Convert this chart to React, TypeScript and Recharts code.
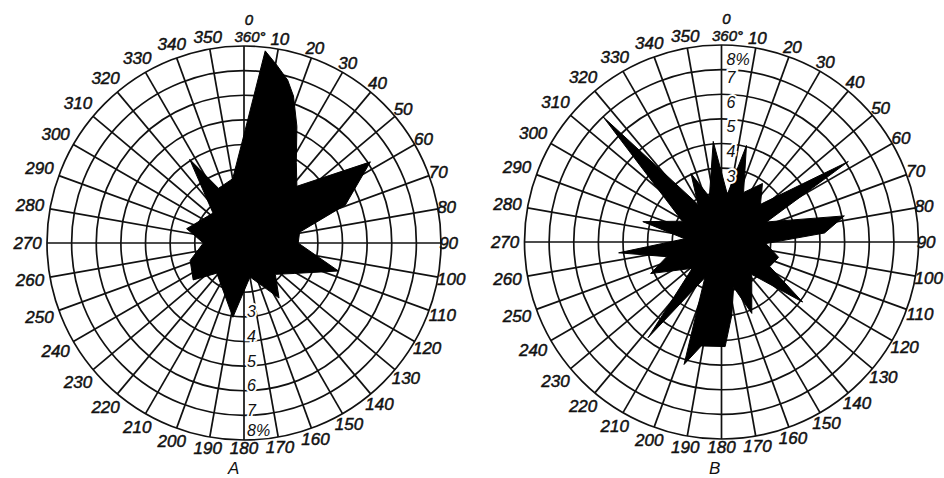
import React from 'react';
import { RadarChart, Radar, PolarGrid, PolarAngleAxis, PolarRadiusAxis } from 'recharts';

// compass directions, degrees clockwise from north
const angleTicks = [0, 10, 20, 30, 40, 50, 60, 70, 80, 90, 100, 110, 120, 130, 140, 150, 160, 170,
  180, 190, 200, 210, 220, 230, 240, 250, 260, 270, 280, 290, 300, 310, 320, 330, 340, 350];

// percentage rings
const ringTicks = [0, 1, 2, 3, 4, 5, 6, 7, 8];

// rose A
const angleA = [0, 6.3, 10.4, 15, 18.6, 24.4, 33, 43, 57.3, 69.4, 79, 90, 106.5, 121, 135, 147.5,
  170, 188.5, 222, 234, 252, 270, 284, 314, 327, 335, 350];
const valueA = [4.4, 7.85, 7.35, 6.85, 6.3, 5.2, 3.9, 3.15, 6.1, 4.4, 2.3, 2.2, 4.0, 2.4, 1.8, 2.65,
  1.4, 3.05, 1.65, 2.55, 2.3, 1.65, 2.4, 1.75, 4.05, 2.45, 2.65];

// rose B
const angleB = [7, 14.5, 24, 35, 46, 57.6, 66, 78, 85, 92, 105, 117, 126.5, 137, 157, 165, 172, 178,
  191, 197, 205, 217.5, 228, 246, 255, 264, 275, 284.5, 298, 316.6, 328, 336, 345, 355.3];
const valueB = [1.95, 4.05, 2.2, 2.9, 2.2, 6.1, 2.0, 5.1, 4.2, 1.8, 2.4, 2.2, 4.1, 1.8, 3.15, 1.9, 3.0, 4.25,
  4.3, 5.2, 1.6, 4.9, 1.6, 3.15, 2.3, 4.2, 1.5, 3.3, 1.8, 7.0, 1.8, 3.05, 1.9, 4.1];

const W = 472;
const H = 478;
const R = 197;
const FONT = '"Liberation Sans", Arial, sans-serif';
const INK = '#111';

const toRows = (angles: number[], values: number[]) =>
  angles.map((angle, i) => ({ angle, value: values[i] }));

// grid angles in recharts' math convention (ccw from east)
const gridAngles = angleTicks.map((d) => 90 - d);

const textStyle = {
  fontFamily: FONT, fontStyle: 'italic', fontSize: 17, fill: INK, stroke: INK, strokeWidth: 0.5,
};

const makeAngleTick = (cx: number, cy: number) => (props: any) => {
  const deg = props.payload.value;
  if (deg === 0) {
    return (
      <g>
        <text x={cx + 5} y={cy - R - 27} textAnchor="middle" dominantBaseline="central" {...textStyle} fontSize={15}>0</text>
        <text x={cx + 6} y={cy - R - 10} textAnchor="middle" dominantBaseline="central" {...textStyle} fontSize={15}>360°</text>
      </g>
    );
  }
  const t = (deg * Math.PI) / 180;
  const s = Math.sin(t);
  const c = Math.cos(t);
  const label = String(deg);
  const hw = label.length * 4.8;
  const lr = R + 1.5 - 3.5 * s + hw * Math.abs(s) + 7 * Math.abs(c);
  return (
    <text x={cx + lr * s} y={cy - lr * c} textAnchor="middle" dominantBaseline="central" {...textStyle}>
      {label}
    </text>
  );
};

const makeRadiusTick = (dir: number, dx: number, gap: number, topGap: number) => (props: any) => {
  const v = props.payload.value;
  if (v < 3) return <g />;
  return (
    <g>
      <text
        x={props.x + dx}
        y={props.y + dir * (v === 8 ? topGap : gap)}
        dominantBaseline="central"
        {...textStyle}
        fontSize={16}
        stroke="#fff"
        strokeWidth={4}
        paintOrder="stroke"
      >
        {v === 8 ? '8%' : v}
      </text>
    </g>
  );
};

const Rose = ({ data, cx, cy, axisAngle, radiusTick }: any) => (
  <RadarChart width={W} height={H} cx={cx} cy={cy} outerRadius={R} data={data}
    margin={{ top: 0, right: 0, bottom: 0, left: 0 }}>
    <PolarGrid gridType="circle" polarAngles={gridAngles} stroke={INK} strokeWidth={1.7} />
    <PolarAngleAxis
      dataKey="angle"
      type="number"
      domain={[0, 360]}
      ticks={angleTicks}
      axisLine={false}
      tickLine={false}
      tick={makeAngleTick(cx, cy)}
    />
    <PolarRadiusAxis
      angle={axisAngle}
      type="number"
      domain={[0, 8]}
      ticks={ringTicks}
      tickCount={9}
      axisLine={false}
      tick={radiusTick}
    />
    <Radar dataKey="value" stroke="#000" strokeWidth={1} fill="#000" fillOpacity={1}
      dot={false} isAnimationActive={false} />
  </RadarChart>
);

const captionStyle: React.CSSProperties = {
  position: 'absolute', top: 460, fontFamily: FONT, fontStyle: 'italic', fontSize: 17, lineHeight: '17px',
  color: INK,
};

export default function App() {
  return (
    <div style={{ position: 'absolute', left: 0, top: 0, width: 944, height: 478, background: '#fff', overflow: 'hidden' }}>
      <div style={{ position: 'absolute', left: 0, top: 0 }}>
        <Rose data={toRows(angleA, valueA)} cx={244} cy={243} axisAngle={-90}
          radiusTick={makeRadiusTick(-1, 3, 5, 10)} />
      </div>
      <div style={{ position: 'absolute', left: 472, top: 0 }}>
        <Rose data={toRows(angleB, valueB)} cx={249.5} cy={242} axisAngle={90}
          radiusTick={makeRadiusTick(1, 5, 8, 14)} />
      </div>
      <div style={{ ...captionStyle, left: 228 }}>A</div>
      <div style={{ ...captionStyle, left: 709 }}>B</div>
    </div>
  );
}
